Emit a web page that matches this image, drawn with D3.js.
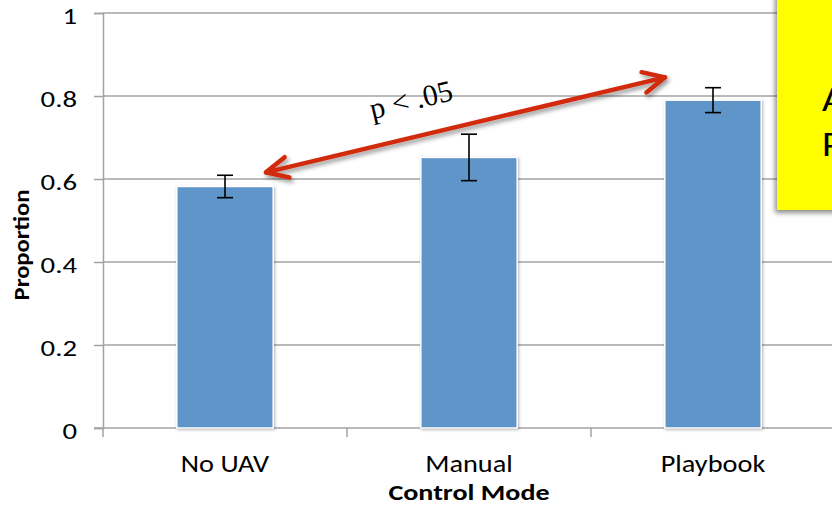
<!DOCTYPE html>
<html>
<head>
<meta charset="utf-8">
<script src="https://cdn.jsdelivr.net/npm/d3@7"></script>
<style>
  body { margin: 0; background: #fff; overflow: hidden; }
  text { font-family: Carlito, Lato, "Open Sans", sans-serif; }
</style>
</head>
<body>
<div id="chart"></div>
<script>
const categories = ['No UAV', 'Manual', 'Playbook'];
const proportions = [0.582, 0.652, 0.790];
const errors = [0.027, 0.056, 0.030];
const yTicks = [0, 0.2, 0.4, 0.6, 0.8, 1];
const yTickLabels = ['0', '0.2', '0.4', '0.6', '0.8', '1'];
const noteLines = ['A', 'P'];

const width = 832, height = 508;
const padLeft = 103, padTop = 13, plotH = 415, step = 244;
const wide = 1.2; // the source picture is a little wider than tall

const svg = d3.select('#chart').append('svg')
  .attr('width', width)
  .attr('height', height);

const defs = svg.append('defs');
function shadow(id, dx, dy, blur, op) {
  defs.append('filter').attr('id', id)
    .attr('x', '-20%').attr('y', '-20%').attr('width', '140%').attr('height', '140%')
    .append('feDropShadow')
    .attr('dx', dx).attr('dy', dy).attr('stdDeviation', blur)
    .attr('flood-color', '#000').attr('flood-opacity', op);
}
shadow('barShadow', 1, 1, 1.5, 0.3);
shadow('arrowShadow', 2, 3, 2, 0.4);
shadow('boxShadow', -2, 3, 2.5, 0.45);

const x = d3.scaleBand().domain(categories).range([padLeft, padLeft + step * categories.length]).padding(0);
const y = d3.scaleLinear().domain([0, 1]).range([padTop + plotH, padTop]);
const barW = x.bandwidth() * 0.395;

function label(g, tx, ty, txt, anchor, size, weight, sx) {
  return g.append('text')
    .attr('transform', `translate(${tx},${ty}) scale(${sx || wide},1)`)
    .attr('text-anchor', anchor)
    .style('font-size', size + 'px')
    .style('font-weight', weight || 'normal')
    .attr('fill', '#000')
    .text(txt);
}

// gridlines
svg.append('g').selectAll('line.grid')
  .data(yTicks.slice(1))
  .join('line')
  .attr('x1', padLeft).attr('x2', width)
  .attr('y1', d => y(d)).attr('y2', d => y(d))
  .attr('stroke', '#a3a3a3').attr('stroke-width', 1.5);

// y axis
const yAxis = svg.append('g')
  .attr('transform', `translate(${padLeft},0)`)
  .call(d3.axisLeft(y).tickValues(yTicks).tickSize(9).tickFormat(''));
yAxis.select('.domain').attr('stroke', '#a3a3a3').attr('stroke-width', 1.5);
yAxis.selectAll('line').attr('stroke', '#a3a3a3').attr('stroke-width', 1.5);
yTicks.forEach((t, i) => label(svg, 77, y(t) + 11, yTickLabels[i], 'end', 23, 'normal', 1.25));

// x axis
svg.append('line')
  .attr('x1', padLeft - 9).attr('x2', width)
  .attr('y1', y(0)).attr('y2', y(0))
  .attr('stroke', '#a3a3a3').attr('stroke-width', 1.5);
svg.append('g').selectAll('line.xt')
  .data(d3.range(categories.length + 1))
  .join('line')
  .attr('x1', i => padLeft + i * x.step()).attr('x2', i => padLeft + i * x.step())
  .attr('y1', y(0)).attr('y2', y(0) + 9)
  .attr('stroke', '#a3a3a3').attr('stroke-width', 1.5);

// bars
svg.append('g').selectAll('rect')
  .data(categories)
  .join('rect')
  .attr('x', d => x(d) + x.bandwidth() / 2 - barW / 2)
  .attr('y', (d, i) => y(proportions[i]))
  .attr('width', barW)
  .attr('height', (d, i) => y(0) - y(proportions[i]))
  .attr('fill', '#5f95c8')
  .attr('stroke', '#fff').attr('stroke-width', 1.5)
  .attr('filter', 'url(#barShadow)');

// error bars
const eb = svg.append('g').attr('stroke', '#000').attr('stroke-width', 1.6);
categories.forEach((c, i) => {
  const cx = x(c) + x.bandwidth() / 2;
  const hi = y(proportions[i] + errors[i]), lo = y(proportions[i] - errors[i]);
  eb.append('line').attr('x1', cx).attr('x2', cx).attr('y1', hi).attr('y2', lo);
  eb.append('line').attr('x1', cx - 8).attr('x2', cx + 8).attr('y1', hi).attr('y2', hi);
  eb.append('line').attr('x1', cx - 8).attr('x2', cx + 8).attr('y1', lo).attr('y2', lo);
});

// category labels
categories.forEach(c => label(svg, x(c) + x.bandwidth() / 2, 472, c, 'middle', 24, 'normal', 1.18));
label(svg, x('Manual') + x.bandwidth() / 2, 500, 'Control Mode', 'middle', 23, 'bold', 1.22);
svg.append('text')
  .attr('transform', `translate(29,245) rotate(-90) scale(1.12,1)`)
  .attr('text-anchor', 'middle')
  .style('font-size', '22px').style('font-weight', 'bold')
  .text('Proportion');

// significance arrow between No UAV and Playbook
const x1 = x('No UAV') + x.bandwidth() / 2 + 41, y1 = y(0.616);
const x2 = x('Playbook') + x.bandwidth() / 2 - 48, y2 = y(0.845);
const ang = Math.atan2(y2 - y1, x2 - x1);
const head = 24, spread = 0.45;
const arrow = svg.append('g').attr('filter', 'url(#arrowShadow)')
  .attr('stroke', '#d12a0c').attr('stroke-width', 4.5).attr('fill', 'none')
  .attr('stroke-linecap', 'round').attr('stroke-linejoin', 'round');
arrow.append('line').attr('x1', x1).attr('y1', y1).attr('x2', x2).attr('y2', y2);
function chevron(px, py, a) {
  arrow.append('path').attr('d', d3.line()([
    [px + head * Math.cos(a + spread), py + head * Math.sin(a + spread)],
    [px, py],
    [px + head * Math.cos(a - spread), py + head * Math.sin(a - spread)]
  ]));
}
chevron(x1, y1, ang);
chevron(x2, y2, ang + Math.PI);

// label sits above the arrow, about a third of the way along
const t = 0.385, off = 27;
const lx = x1 + (x2 - x1) * t + off * Math.sin(ang);
const ly = y1 + (y2 - y1) * t - off * Math.cos(ang);
svg.append('text')
  .attr('transform', `translate(${lx},${ly}) rotate(${ang * 180 / Math.PI})`)
  .attr('text-anchor', 'middle')
  .style('font-family', '"Liberation Serif", "Times New Roman", serif')
  .style('font-size', '30px')
  .text('p < .05');

// yellow callout box at the right edge
svg.append('rect')
  .attr('x', 777).attr('y', -10).attr('width', 80).attr('height', 220)
  .attr('fill', '#ffff00')
  .attr('filter', 'url(#boxShadow)');
noteLines.forEach((s, i) => label(svg, 822, 111 + i * 45, s, 'start', 34, 'normal', 1.15));
</script>
</body>
</html>
